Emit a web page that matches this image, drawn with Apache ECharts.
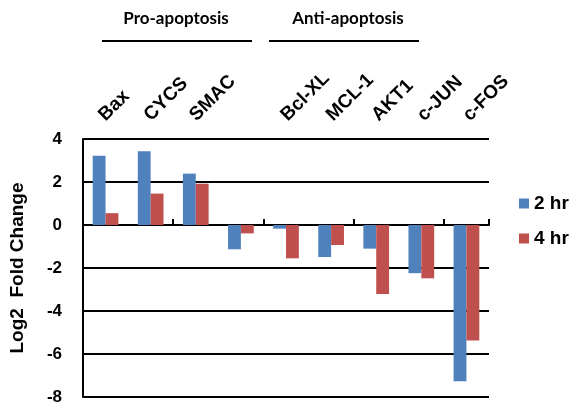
<!DOCTYPE html>
<html><head><meta charset="utf-8">
<script src="https://cdn.jsdelivr.net/npm/echarts@6/dist/echarts.min.js"></script>
<style>html,body{margin:0;padding:0;background:#fff}#c{width:572px;height:408px}</style>
</head><body><div id="c"></div>
<script>
const categories = ['Bax','CYCS','SMAC','','Bcl-XL','MCL-1','AKT1','c-JUN','c-FOS'];
const series2hr = [3.22, 3.43, 2.39, -1.13, -0.17, -1.49, -1.1, -2.24, -7.27];
const series4hr = [0.55, 1.46, 1.92, -0.39, -1.55, -0.93, -3.21, -2.48, -5.37];
const seriesNames = ['2 hr','4 hr'];
const groupLabels = ['Pro-apoptosis','Anti-apoptosis'];
const yTicks = {min:-8, max:4, interval:2};
const FF = '"Liberation Sans", Arial, sans-serif';
const FG = 'Lato, "Liberation Sans", sans-serif';

const chart = echarts.init(document.getElementById('c'), null, {renderer:'canvas'});
chart.setOption({
  animation:false,
  backgroundColor:'#fff',
  textStyle:{fontFamily:FF},
  grid:[
    {left:79, right:83, top:139, bottom:11},
    {left:79, right:83, top:139, height:1}
  ],
  legend:{
    orient:'vertical', left:514, top:189,
    itemWidth:10, itemHeight:10, itemGap:16,
    textStyle:{fontFamily:FF, fontSize:19, fontWeight:'bold', color:'#000'},
    data:seriesNames, icon:'rect'
  },
  xAxis:[
    {type:'category', gridIndex:0, data:categories,
     axisLine:{onZero:true, lineStyle:{color:'#000', width:2}},
     axisTick:{show:true, inside:true, length:6, lineStyle:{color:'#000', width:2}},
     axisLabel:{show:false}},
    {type:'category', gridIndex:1, position:'top', data:categories,
     axisLine:{show:false}, axisTick:{show:false},
     axisLabel:{rotate:45, margin:21, fontFamily:FF, fontSize:19, fontWeight:'bold', color:'#000', interval:0}}
  ],
  yAxis:[
    {type:'value', gridIndex:0, min:yTicks.min, max:yTicks.max, interval:yTicks.interval,
     name:'Log2  Fold Change', nameLocation:'middle', nameGap:56,
     nameTextStyle:{fontFamily:FF, fontSize:19, fontWeight:'bold', color:'#000'},
     axisLine:{show:true, lineStyle:{color:'#000', width:2}},
     axisTick:{show:false},
     axisLabel:{fontFamily:FF, fontSize:17, fontWeight:'bold', color:'#000', margin:21},
     splitLine:{lineStyle:{color:'#000', width:2}}},
    {type:'value', gridIndex:1, show:false}
  ],
  graphic:[
    {type:'text', style:{text:groupLabels[0], x:176, y:18.5, textAlign:'center', textVerticalAlign:'middle', fontFamily:FG, fontSize:17, fontWeight:'bold', fill:'#000'}},
    {type:'text', style:{text:groupLabels[1], x:348, y:18.5, textAlign:'center', textVerticalAlign:'middle', fontFamily:FG, fontSize:17, fontWeight:'bold', fill:'#000'}},
    {type:'line', shape:{x1:102, y1:41, x2:252, y2:41}, style:{stroke:'#000', lineWidth:2}},
    {type:'line', shape:{x1:269, y1:41, x2:419, y2:41}, style:{stroke:'#000', lineWidth:2}}
  ],
  series:[
    {name:seriesNames[0], type:'bar', xAxisIndex:0, yAxisIndex:0, data:series2hr, barGap:'0%', barCategoryGap:'43%', itemStyle:{color:'#4F81BD'}},
    {name:seriesNames[1], type:'bar', xAxisIndex:0, yAxisIndex:0, data:series4hr, barGap:'0%', barCategoryGap:'43%', itemStyle:{color:'#C0504D'}}
  ]
});
</script></body></html>
